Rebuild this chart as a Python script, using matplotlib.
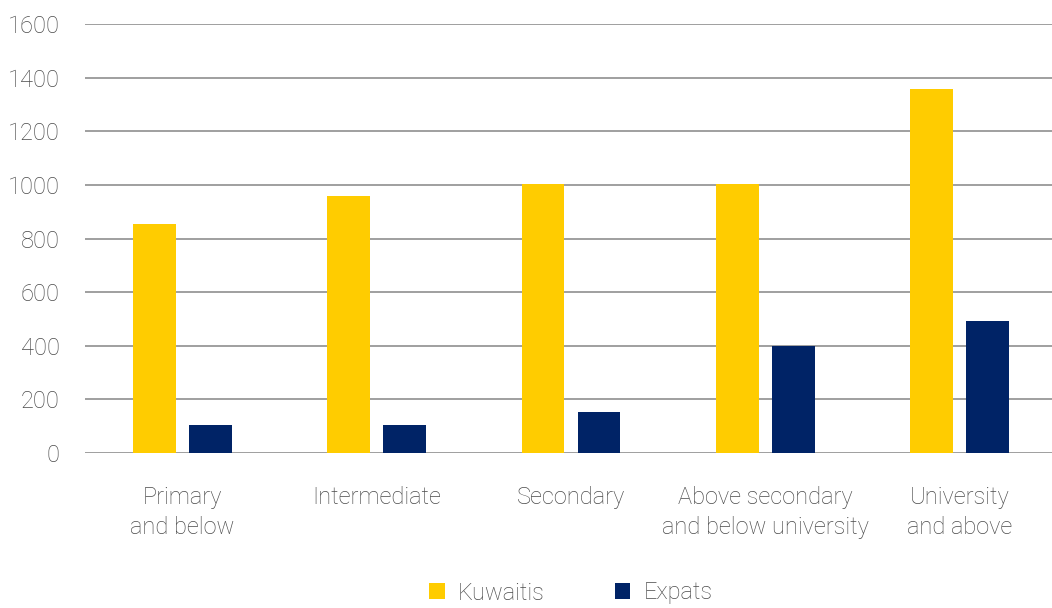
import numpy as np
import matplotlib.pyplot as plt

categories = ["Primary\nand below", "Intermediate", "Secondary",
              "Above secondary\nand below university", "University\nand above"]
kuwaitis = [855, 960, 1005, 1005, 1358]
expats = [104, 104, 153, 399, 492]
yticks = [0, 200, 400, 600, 800, 1000, 1200, 1400, 1600]

plt.rcParams['font.family'] = ['Roboto', 'DejaVu Sans']
grey = "#4a4a4a"

fig = plt.figure(figsize=(10.52, 6.08), dpi=100)
ax = fig.add_axes([85 / 1052, 1 - 453 / 608, 972 / 1052, (453 - 24) / 608])

x = np.arange(len(categories))
w = 0.22
ax.bar(x - 0.144, kuwaitis, w, color="#FFCC00", label="Kuwaitis", zorder=3)
ax.bar(x + 0.144, expats, w, color="#002366", label="Expats", zorder=3)

ax.set_xlim(-0.5, len(categories) - 0.5)
ax.set_ylim(0, 1600)
ax.set_yticks(yticks)
ax.set_yticklabels([str(v) for v in yticks])
ax.yaxis.grid(True, color="#858585", lw=1.1, zorder=0)
ax.set_xticks(x)
ax.set_xticklabels(categories, linespacing=1.38)
for s in ax.spines.values():
    s.set_visible(False)
ax.tick_params(axis='both', length=0, colors=grey, labelsize=17)
ax.tick_params(axis='y', pad=18)
ax.tick_params(axis='x', pad=24)
for t in ax.get_xticklabels() + ax.get_yticklabels():
    t.set_fontweight('light')

leg = fig.legend(loc='center', bbox_to_anchor=(571 / 1052, 1 - 593 / 608), ncol=2,
                 frameon=False, fontsize=17, handlelength=0.64, handleheight=0.64,
                 columnspacing=3.0, handletextpad=0.55)
for t in leg.get_texts():
    t.set_color(grey)
    t.set_fontweight('light')

fig.savefig("out.png", dpi=100)
